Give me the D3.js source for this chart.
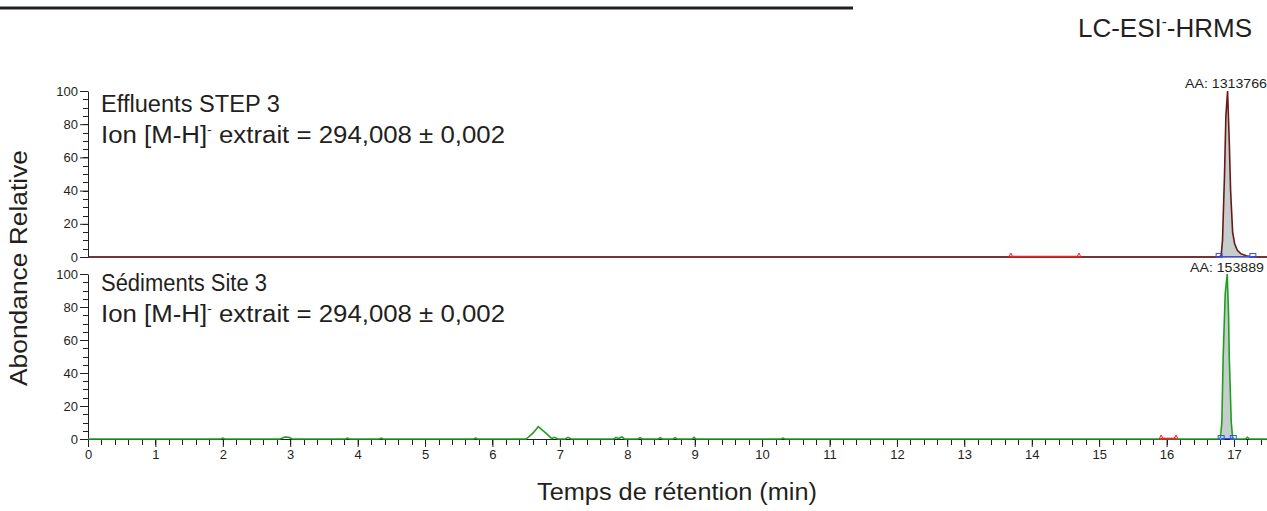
<!DOCTYPE html>
<html><head><meta charset="utf-8">
<script src="https://cdn.jsdelivr.net/npm/d3@7"></script>
<style>
html,body{margin:0;padding:0;background:#fff;}
svg{display:block;font-family:"Liberation Sans",Arial,Helvetica,sans-serif;}
</style></head>
<body><svg id="c" width="1267" height="511"></svg>
<script>
// ---- data ----
const xTickValues = [0,1,2,3,4,5,6,7,8,9,10,11,12,13,14,15,16,17];
const yTickValues = [0,20,40,60,80,100];
const panelTitles = ["Effluents STEP 3", "Sédiments Site 3"];
const ionLabel = ["Ion [M-H]", "-", " extrait = 294,008 ± 0,002"];
const areaLabels = ["AA: 1313766", "AA: 153889"];

// upper panel (effluents) trace
const upperTime  = [0, 13.69, 14.70, 16.78, 16.81, 16.83, 16.86, 16.88, 16.905, 16.93, 16.95, 16.98, 17.01, 17.05, 17.10, 17.18, 17.28, 17.49];
const upperAbund = [0, 0,     0,     0,     1,     10,    50,    85,    100,    70,    40,    15,    8,     4,     2,     0.7,   0,     0];
const upperRed   = [13.69, 14.70];          // red baseline segment
const upperPeak  = [16.78, 17.28];          // integration bounds (blue)

// lower panel (sediments) trace
const lowerTime  = [0, 1.97, 2.0, 2.03, 2.85, 2.92, 2.98, 3.03, 3.82, 3.85, 3.88, 4.32, 4.35, 4.38, 5.72, 5.75, 5.78,
  6.50, 6.60, 6.68, 6.78, 6.88, 6.92, 6.97, 7.08, 7.12, 7.17, 7.80, 7.83, 7.87, 7.92, 7.96, 8.16, 8.19, 8.22,
  8.46, 8.49, 8.52, 8.68, 8.71, 8.74, 8.96, 8.99, 9.02, 10.28, 10.31, 10.34,
  16.78, 16.80, 16.82, 16.84, 16.87, 16.90, 16.92, 16.93, 16.96, 16.98, 17.00, 17.17, 17.20, 17.23, 17.49];
const lowerAbund = [0, 0, 0.5, 0, 0, 1.2, 1, 0, 0, 0.5, 0, 0, 0.5, 0, 0, 0.5, 0,
  0, 3.5, 7.5, 4, 0.3, 1, 0, 0, 1, 0, 0, 1, 0.3, 1.2, 0, 0, 0.8, 0,
  0, 0.8, 0, 0, 0.8, 0, 0, 1, 0, 0, 0.5, 0,
  0, 1, 10, 50, 88, 100, 75, 50, 10, 1, 0, 0, 1, 0, 0];
const lowerRed   = [15.92, 16.14];
const lowerPeak  = [16.81, 16.99];

// ---- drawing ----
const svg = d3.select("#c");
const font = '"Liberation Sans",Arial,Helvetica,sans-serif';
const ink = "#231f20";

const x = d3.scaleLinear().domain([0, 17.49]).range([88, 1267]);
const yU = d3.scaleLinear().domain([0, 100]).range([257, 91]);
const yL = d3.scaleLinear().domain([0, 100]).range([439, 274]);

// top rule
svg.append("line").attr("x1",0).attr("x2",853).attr("y1",8).attr("y2",8)
  .attr("stroke",ink).attr("stroke-width",3);

// method label
const lc = svg.append("text").attr("x",1252).attr("y",37).attr("text-anchor","end")
  .attr("font-size",26).attr("fill",ink);
lc.append("tspan").text("LC-ESI");
lc.append("tspan").attr("dy",-10).attr("font-size",15).text("-");
lc.append("tspan").attr("dy",10).text("-HRMS");

const yMinor = d3.range(0,101,5);
const xMinor = d3.range(0,88).map(i=>Math.round(i*2)/10);

function yAxis(y){
  svg.append("g").selectAll("line").data(yMinor).join("line")
    .attr("x1",83).attr("x2",88).attr("y1",d=>Math.round(y(d))+0.5).attr("y2",d=>Math.round(y(d))+0.5)
    .attr("stroke",ink).attr("stroke-width",1);
  const g = svg.append("g").attr("transform","translate(88,0)")
    .call(d3.axisLeft(y).tickValues(yTickValues).tickSize(8).tickPadding(2).tickSizeOuter(0));
  g.selectAll("text").attr("font-size",13).attr("font-family",font).attr("fill",ink);
  g.selectAll("line,path").attr("stroke",ink);
}
yAxis(yU);
yAxis(yL);

// upper baseline axis line
svg.append("line").attr("x1",88).attr("x2",1267).attr("y1",yU(0)).attr("y2",yU(0))
  .attr("stroke",ink).attr("stroke-width",1);

// x axis
svg.append("g").selectAll("line").data(xMinor).join("line")
  .attr("x1",d=>Math.round(x(d))+0.5).attr("x2",d=>Math.round(x(d))+0.5)
  .attr("y1",yL(0)).attr("y2",yL(0)+6)
  .attr("stroke",ink).attr("stroke-width",1);
const gx = svg.append("g").attr("transform",`translate(0,${yL(0)})`)
  .call(d3.axisBottom(x).tickValues(xTickValues).tickSize(8).tickPadding(3).tickFormat(d3.format("d")).tickSizeOuter(0));
gx.selectAll("text").attr("font-size",13).attr("font-family",font).attr("fill",ink);
gx.selectAll("line,path").attr("stroke",ink);

function panel(times, vals, y, color, red, peak){
  const pts = times.map((t,i)=>[t, vals[i]]);
  const inPeak = pts.filter(p=>p[0]>=peak[0] && p[0]<=peak[1]);
  svg.append("path").datum(inPeak)
    .attr("d", d3.area().x(d=>x(d[0])).y0(y(0)).y1(d=>y(d[1])))
    .attr("fill","#c5cdcd");
  svg.append("path").datum(pts)
    .attr("d", d3.line().x(d=>x(d[0])).y(d=>y(d[1])))
    .attr("fill","none").attr("stroke",color).attr("stroke-width",1.6);
  // red segment
  svg.append("line").attr("x1",x(red[0])).attr("x2",x(red[1])).attr("y1",y(0)-0.5).attr("y2",y(0)-0.5)
    .attr("stroke","#ff1a1a").attr("stroke-width",1.6);
  red.forEach(t=>{
    svg.append("path").attr("d",`M${x(t)-2},${y(0)} L${x(t)},${y(0)-4} L${x(t)+2},${y(0)} Z`)
      .attr("fill","none").attr("stroke","#ff1a1a").attr("stroke-width",1);
  });
  // blue integration baseline
  svg.append("line").attr("x1",x(peak[0])).attr("x2",x(peak[1])).attr("y1",y(0)-0.5).attr("y2",y(0)-0.5)
    .attr("stroke","#3050ff").attr("stroke-width",1);
  peak.forEach(t=>{
    svg.append("rect").attr("x",x(t)-3).attr("y",y(0)-3.5).attr("width",6).attr("height",4)
      .attr("fill","none").attr("stroke","#3050ff").attr("stroke-width",1);
  });
}
panel(upperTime, upperAbund, yU, "#6b1818", upperRed, upperPeak);
panel(lowerTime, lowerAbund, yL, "#1ea01e", lowerRed, lowerPeak);

// panel titles
function titles(y0, title, tlen){
  svg.append("text").attr("x",101).attr("y",y0).attr("font-size",23.5).attr("fill",ink)
    .attr("textLength",tlen).attr("lengthAdjust","spacingAndGlyphs").text(title);
  const t = svg.append("text").attr("x",101).attr("y",y0+31).attr("font-size",23.5).attr("fill",ink);
  t.append("tspan").text(ionLabel[0]);
  t.append("tspan").attr("dy",-9).attr("font-size",13).text(ionLabel[1]);
  t.append("tspan").attr("dy",9).attr("xml:space","preserve").text(ionLabel[2]);
  t.attr("textLength",404).attr("lengthAdjust","spacingAndGlyphs");
}
titles(112, panelTitles[0], 179);
titles(291, panelTitles[1], 166);

// area labels
svg.append("text").attr("x",1185).attr("y",88).attr("font-size",13).attr("fill",ink)
  .attr("textLength",82).attr("lengthAdjust","spacingAndGlyphs").text(areaLabels[0]);
svg.append("text").attr("x",1190).attr("y",272).attr("font-size",13).attr("fill",ink)
  .attr("textLength",74).attr("lengthAdjust","spacingAndGlyphs").text(areaLabels[1]);

// axis titles
svg.append("text").attr("x",537).attr("y",500).attr("font-size",23.5)
  .attr("fill",ink).attr("textLength",280).attr("lengthAdjust","spacingAndGlyphs").text("Temps de rétention (min)");
svg.append("text").attr("transform","translate(27,386) rotate(-90)").attr("font-size",23.5)
  .attr("fill",ink).attr("textLength",236).attr("lengthAdjust","spacingAndGlyphs").text("Abondance Relative");
</script></body></html>
